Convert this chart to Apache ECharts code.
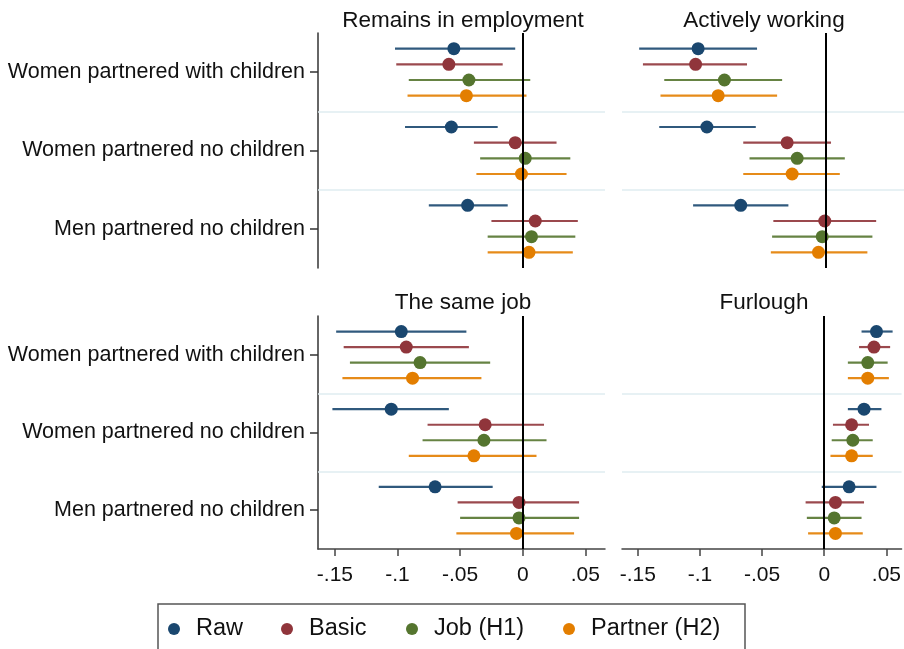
<!DOCTYPE html>
<html>
<head>
<meta charset="utf-8">
<title>Coefficient plot</title>
<script src="https://cdn.jsdelivr.net/npm/echarts@6/dist/echarts.min.js"></script>
<style>
  html, body { margin: 0; padding: 0; background: #fff; }
  #chart { width: 904px; height: 649px; }
</style>
</head>
<body>
<div id="chart"></div>
<script>
  // groups (rows of each panel) and the four model specifications
  const groups = ['Women partnered with children', 'Women partnered no children', 'Men partnered no children']
  const models = ['Raw', 'Basic', 'Job (H1)', 'Partner (H2)']
  const colors = ['#1a476f', '#90353b', '#55752f', '#e37e00']
  const panelTitles = ['Remains in employment', 'Actively working', 'The same job', 'Furlough']
  const xTicks = [-0.15, -0.1, -0.05, 0, 0.05]

  // each array: one row per model, one value per group
  const employCoef = [[-0.055, -0.057, -0.044], [-0.059, -0.006, 0.010], [-0.043, 0.002, 0.007], [-0.045, -0.001, 0.005]]
  const employLo = [[-0.102, -0.094, -0.075], [-0.101, -0.039, -0.025], [-0.091, -0.034, -0.028], [-0.092, -0.037, -0.028]]
  const employHi = [[-0.006, -0.020, -0.012], [-0.016, 0.027, 0.044], [0.006, 0.038, 0.042], [0.003, 0.035, 0.040]]

  const workCoef = [[-0.102, -0.095, -0.068], [-0.104, -0.031, -0.001], [-0.081, -0.023, -0.003], [-0.086, -0.027, -0.006]]
  const workLo = [[-0.149, -0.133, -0.106], [-0.146, -0.066, -0.042], [-0.129, -0.061, -0.043], [-0.132, -0.066, -0.044]]
  const workHi = [[-0.055, -0.056, -0.030], [-0.063, 0.004, 0.040], [-0.035, 0.015, 0.037], [-0.039, 0.011, 0.033]]

  const jobCoef = [[-0.097, -0.105, -0.070], [-0.093, -0.030, -0.003], [-0.082, -0.031, -0.003], [-0.088, -0.039, -0.005]]
  const jobLo = [[-0.149, -0.152, -0.115], [-0.143, -0.076, -0.052], [-0.138, -0.080, -0.050], [-0.144, -0.091, -0.053]]
  const jobHi = [[-0.045, -0.059, -0.024], [-0.043, 0.017, 0.045], [-0.026, 0.019, 0.045], [-0.033, 0.011, 0.041]]

  const furlCoef = [[0.042, 0.032, 0.020], [0.040, 0.022, 0.009], [0.035, 0.023, 0.008], [0.035, 0.022, 0.009]]
  const furlLo = [[0.030, 0.019, -0.002], [0.028, 0.007, -0.015], [0.019, 0.006, -0.014], [0.019, 0.005, -0.013]]
  const furlHi = [[0.055, 0.046, 0.042], [0.053, 0.036, 0.032], [0.051, 0.039, 0.030], [0.052, 0.039, 0.031]]

  const panels = [
    { coef: employCoef, lo: employLo, hi: employHi },
    { coef: workCoef, lo: workLo, hi: workHi },
    { coef: jobCoef, lo: jobLo, hi: jobHi },
    { coef: furlCoef, lo: furlLo, hi: furlHi },
  ]

  const FONT = '"Liberation Sans", Arial, sans-serif'
  const GROUP_STEP = 5
  const rowOffsets = [-1.5, -0.5, 0.5, 1.5]

  const grids = [
    { left: 318, top: 33, width: 287, height: 235 },
    { left: 622, top: 33, width: 282, height: 235 },
    { left: 318, top: 316, width: 287, height: 233 },
    { left: 622, top: 316, width: 282, height: 233 },
  ]
  const xRange = [
    [-0.1635, 0.0657],
    [-0.1627, 0.0622],
    [-0.1635, 0.0657],
    [-0.1627, 0.0622],
  ]

  function fmtTick(v) {
    if (v === 0) return '0'
    return String(v).replace('0.', '.')
  }

  const xAxes = grids.map((g, i) => {
    const bottom = i >= 2
    return {
      gridIndex: i,
      type: 'value',
      min: xRange[i][0],
      max: xRange[i][1],
      axisLine: { show: bottom, onZero: false, lineStyle: { color: '#444', width: 1.5 } },
      axisTick: { show: bottom, customValues: xTicks, length: 7, lineStyle: { color: '#444', width: 1.5 } },
      axisLabel: {
        show: bottom,
        customValues: xTicks,
        formatter: fmtTick,
        margin: 16,
        fontSize: 21,
        fontFamily: FONT,
        color: '#111',
      },
      splitLine: { show: false },
    }
  })

  const yAxes = grids.map((g, i) => {
    const left = i % 2 === 0
    const ticks = groups.map((_, k) => k * GROUP_STEP)
    return {
      gridIndex: i,
      type: 'value',
      inverse: true,
      min: -2.5,
      max: 12.5,
      axisLine: { show: left, onZero: false, lineStyle: { color: '#333', width: 1.5 } },
      axisTick: { show: left, customValues: ticks, length: 8, lineStyle: { color: '#333', width: 1.5 } },
      axisLabel: {
        show: left,
        customValues: ticks,
        formatter: (v) => groups[Math.round(v / GROUP_STEP)],
        margin: 13,
        fontSize: 21.5,
        fontFamily: FONT,
        color: '#111',
      },
      splitLine: { show: false },
    }
  })

  const series = []
  panels.forEach((p, pi) => {
    // separators between groups and the zero reference line
    series.push({
      type: 'scatter',
      xAxisIndex: pi,
      yAxisIndex: pi,
      data: [],
      silent: true,
      z: 1,
      markLine: {
        silent: true,
        symbol: 'none',
        animation: false,
        label: { show: false },
        data: [
          { yAxis: 2.5, lineStyle: { color: '#dfecf0', width: 1.5, type: 'solid' } },
          { yAxis: 7.5, lineStyle: { color: '#dfecf0', width: 1.5, type: 'solid' } },
          { xAxis: 0, lineStyle: { color: '#000', width: 2, type: 'solid' } },
        ],
      },
    })
    models.forEach((m, mi) => {
      const ciData = groups.map((_, gi) => [gi * GROUP_STEP + rowOffsets[mi], p.lo[mi][gi], p.hi[mi][gi]])
      const ptData = groups.map((_, gi) => [p.coef[mi][gi], gi * GROUP_STEP + rowOffsets[mi]])
      series.push({
        name: m,
        type: 'custom',
        xAxisIndex: pi,
        yAxisIndex: pi,
        z: 3,
        encode: { x: [1, 2], y: 0 },
        data: ciData,
        itemStyle: { color: colors[mi] },
        renderItem: (params, api) => {
          const y = api.value(0)
          const a = api.coord([api.value(1), y])
          const b = api.coord([api.value(2), y])
          return {
            type: 'line',
            shape: { x1: a[0], y1: a[1], x2: b[0], y2: b[1] },
            style: { stroke: colors[mi], lineWidth: 2.2, opacity: 0.9 },
          }
        },
      })
      series.push({
        name: m,
        type: 'scatter',
        xAxisIndex: pi,
        yAxisIndex: pi,
        z: 4,
        symbol: 'circle',
        symbolSize: 13,
        data: ptData,
        itemStyle: { color: colors[mi], opacity: 1 },
      })
    })
  })

  const titleCenters = [
    [463, 9],
    [764, 9],
    [463, 291],
    [764, 291],
  ]
  const titles = panelTitles.map((t, i) => ({
    text: t,
    left: titleCenters[i][0],
    top: titleCenters[i][1],
    textAlign: 'center',
    padding: 0,
    textStyle: { fontSize: 22.5, fontWeight: 'normal', fontFamily: FONT, color: '#111' },
  }))

  const legendLefts = [168, 281, 406, 563]
  const legends = models.map((m, i) => ({
    data: [m],
    left: legendLefts[i],
    top: 617,
    padding: 0,
    icon: 'circle',
    itemWidth: 12,
    itemHeight: 12,
    selectedMode: false,
    textStyle: { fontSize: 23.5, fontFamily: FONT, color: '#111', padding: [0, 0, 0, 11] },
  }))

  const chart = echarts.init(document.getElementById('chart'), null, { renderer: 'canvas' })
  chart.setOption({
    animation: false,
    backgroundColor: '#fff',
    title: titles,
    legend: legends,
    grid: grids,
    xAxis: xAxes,
    yAxis: yAxes,
    series,
    graphic: [
      {
        type: 'rect',
        shape: { x: 158, y: 604, width: 587, height: 60 },
        style: { fill: 'none', stroke: '#555', lineWidth: 1.5 },
        silent: true,
      },
    ],
  })
</script>
</body>
</html>
